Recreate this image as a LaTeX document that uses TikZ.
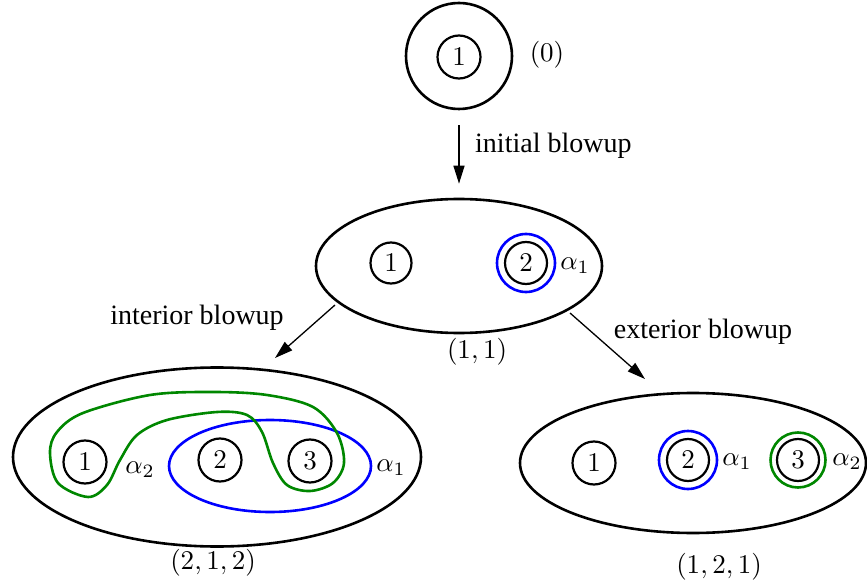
\documentclass[tikz,border=0pt]{standalone}
\usepackage[no-math]{fontspec}
\setmainfont{Liberation Serif}
\usetikzlibrary{shapes.geometric,arrows.meta}
\definecolor{myblue}{RGB}{0,0,255}
\definecolor{mygreen}{RGB}{0,135,0}
\newcommand\mymath[1]{\scalebox{2.7}{$#1$}}
\tikzset{
  outerc/.style={draw,line width=2.6pt,circle,inner sep=0pt},
  outere/.style={draw,line width=2.6pt,ellipse,inner sep=0pt},
  hole/.style={draw,line width=2.2pt,circle,inner sep=0pt,minimum size=43pt},
  lab/.style={inner sep=0pt},
  txt/.style={font=\fontsize{28}{31}\selectfont,inner sep=0pt},
  arr/.style={line width=1.3pt,-{Triangle[length=18pt,width=11pt]}},
  bluecurve/.style={draw=myblue,line width=2.6pt},
  greencurve/.style={draw=mygreen,line width=2.6pt}
}
\begin{document}
\begin{tikzpicture}[x=1pt,y=-1pt]
\useasboundingbox (0,0) rectangle (867,585);
% top
\node[outerc,minimum size=106pt] (top) at (459,56) {};
\node[hole] (t1) at (459,57) {\mymath{1}};
\node[lab] (l0) at (547,55) {\mymath{(0)}};
% middle
\node[outere,minimum width=286pt,minimum height=134pt] (mid) at (459,266) {};
\node[hole,minimum size=41pt] (m1) at (391,263) {\mymath{1}};
\node[hole,minimum size=42pt] (m2) at (526,263) {\mymath{2}};
\node[bluecurve,circle,minimum size=58pt,inner sep=0pt] (m2b) at (m2) {};
\node[lab] (ma1) at (575,266) {\mymath{\alpha_1}};
\node[lab] (l11) at (477,352) {\mymath{(1,1)}};
\draw[arr,shorten <=15pt,shorten >=14pt] (top) -- (mid);
\node[txt,anchor=west] (ib) at (475,146) {initial blowup};
% left
\node[outere,minimum width=408pt,minimum height=179pt] (left) at (217,457) {};
\draw[bluecurve] (270,466) ellipse [x radius=101pt,y radius=46pt];
\draw[greencurve] plot[smooth cycle,tension=0.55] coordinates {
 (50,453) (58,483) (88,497) (107,485) (120,460) (137,435) (167,420) (217,412)
 (247,415) (262,432) (273,463) (287,485) (310,491) (333,483) (344,463)
 (337,433) (313,407) (267,395) (213,392) (150,395) (83,413) (57,432)};
\node[hole] (l1) at (85,462) {\mymath{1}};
\node[hole] (l2) at (220,460) {\mymath{2}};
\node[hole] (l3) at (310,461) {\mymath{3}};
\node[lab] (la2) at (140,470) {\mymath{\alpha_2}};
\node[lab] (la1) at (391,468) {\mymath{\alpha_1}};
\node[lab] (l212) at (213,563) {\mymath{(2,1,2)}};
% right
\node[outere,minimum width=346pt,minimum height=140pt] (right) at (693,463) {};
\node[hole] (r1) at (594,463) {\mymath{1}};
\node[hole,minimum size=42pt] (r2) at (688,460) {\mymath{2}};
\node[bluecurve,circle,minimum size=58pt,inner sep=0pt] (r2b) at (r2) {};
\node[hole,minimum size=42pt] (r3) at (798,460) {\mymath{3}};
\node[greencurve,circle,minimum size=55pt,inner sep=0pt] (r3g) at (r3) {};
\node[lab] (ra1) at (737,462) {\mymath{\alpha_1}};
\node[lab] (ra2) at (847,462) {\mymath{\alpha_2}};
\node[lab] (l121) at (719,567) {\mymath{(1,2,1)}};
% diagonal arrows
\coordinate (is) at (335,305);
\coordinate (ie) at (275,358);
\coordinate (es) at (570,313);
\coordinate (ee) at (645,379);
\draw[arr] (is) -- (ie);
\draw[arr] (es) -- (ee);
\node[txt] (intb) at (197,318) {interior blowup};
\node[txt] (extb) at (703,332) {exterior blowup};
\end{tikzpicture}
\end{document}
